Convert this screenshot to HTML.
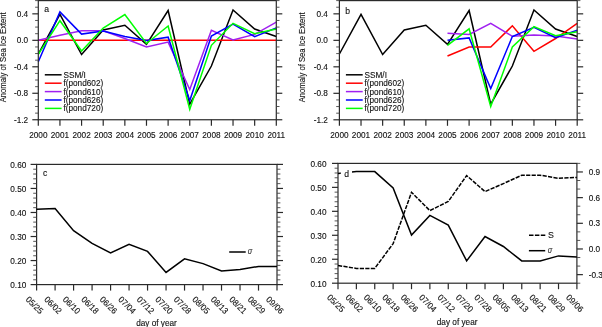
<!DOCTYPE html>
<html><head><meta charset="utf-8"><style>
html,body{margin:0;padding:0;background:#fff;}
body{width:602px;height:327px;overflow:hidden;}
svg{display:block;font-family:"Liberation Sans",sans-serif;}
</style></head><body>
<svg style="will-change:transform" width="602" height="327" viewBox="0 0 602 327">
<rect width="602" height="327" fill="#fff"/>
<polyline points="38.30,54.00 59.94,14.40 81.57,54.50 103.21,30.00 124.85,25.20 146.48,44.30 168.12,10.50 189.75,104.10 211.39,66.00 233.03,10.00 254.66,29.00 276.30,36.50" fill="none" stroke="#000" stroke-width="1.5" stroke-linejoin="miter" stroke-miterlimit="10" />
<polyline points="38.30,40.20 59.94,40.20 81.57,40.20 103.21,40.20 124.85,40.20 146.48,40.20 168.12,40.20 189.75,40.20 211.39,40.20 233.03,40.20 254.66,40.20 276.30,40.20" fill="none" stroke="#ff0000" stroke-width="1.5" stroke-linejoin="miter" stroke-miterlimit="10" />
<polyline points="38.30,40.20 59.94,35.30 81.57,30.80 103.21,30.80 124.85,38.50 146.48,47.00 168.12,42.10 189.75,89.50 211.39,30.20 233.03,40.00 254.66,34.40 276.30,22.10" fill="none" stroke="#a020f0" stroke-width="1.5" stroke-linejoin="miter" stroke-miterlimit="10" />
<polyline points="38.30,61.70 59.94,11.90 81.57,34.10 103.21,31.00 124.85,36.60 146.48,40.50 168.12,37.20 189.75,100.60 211.39,36.00 233.03,24.00 254.66,36.70 276.30,27.90" fill="none" stroke="#0000ff" stroke-width="1.5" stroke-linejoin="miter" stroke-miterlimit="10" />
<polyline points="38.30,54.30 59.94,20.70 81.57,51.00 103.21,28.00 124.85,14.50 146.48,43.50 168.12,26.00 189.75,109.30 211.39,45.30 233.03,23.30 254.66,33.70 276.30,29.00" fill="none" stroke="#00ff00" stroke-width="1.5" stroke-linejoin="miter" stroke-miterlimit="10" />
<rect x="38.30" y="0.60" width="238.00" height="119.15" fill="none" stroke="#2a2a2a" stroke-width="1.2"/>
<line x1="32.30" y1="119.75" x2="38.30" y2="119.75" stroke="#2a2a2a" stroke-width="1.2" />
<line x1="276.30" y1="119.75" x2="282.30" y2="119.75" stroke="#2a2a2a" stroke-width="1.2" />
<text transform="translate(28.20,122.65) scale(0.96,1)" y="0" font-size="8.6" text-anchor="end" fill="#111" stroke="#111" stroke-width="0.12" >-1.2</text>
<line x1="35.10" y1="113.13" x2="38.30" y2="113.13" stroke="#444" stroke-width="0.9" />
<line x1="276.30" y1="113.13" x2="279.50" y2="113.13" stroke="#444" stroke-width="0.9" />
<line x1="35.10" y1="106.51" x2="38.30" y2="106.51" stroke="#444" stroke-width="0.9" />
<line x1="276.30" y1="106.51" x2="279.50" y2="106.51" stroke="#444" stroke-width="0.9" />
<line x1="35.10" y1="99.89" x2="38.30" y2="99.89" stroke="#444" stroke-width="0.9" />
<line x1="276.30" y1="99.89" x2="279.50" y2="99.89" stroke="#444" stroke-width="0.9" />
<line x1="32.30" y1="93.27" x2="38.30" y2="93.27" stroke="#2a2a2a" stroke-width="1.2" />
<line x1="276.30" y1="93.27" x2="282.30" y2="93.27" stroke="#2a2a2a" stroke-width="1.2" />
<text transform="translate(28.20,96.17) scale(0.96,1)" y="0" font-size="8.6" text-anchor="end" fill="#111" stroke="#111" stroke-width="0.12" >-0.8</text>
<line x1="35.10" y1="86.65" x2="38.30" y2="86.65" stroke="#444" stroke-width="0.9" />
<line x1="276.30" y1="86.65" x2="279.50" y2="86.65" stroke="#444" stroke-width="0.9" />
<line x1="35.10" y1="80.03" x2="38.30" y2="80.03" stroke="#444" stroke-width="0.9" />
<line x1="276.30" y1="80.03" x2="279.50" y2="80.03" stroke="#444" stroke-width="0.9" />
<line x1="35.10" y1="73.41" x2="38.30" y2="73.41" stroke="#444" stroke-width="0.9" />
<line x1="276.30" y1="73.41" x2="279.50" y2="73.41" stroke="#444" stroke-width="0.9" />
<line x1="32.30" y1="66.79" x2="38.30" y2="66.79" stroke="#2a2a2a" stroke-width="1.2" />
<line x1="276.30" y1="66.79" x2="282.30" y2="66.79" stroke="#2a2a2a" stroke-width="1.2" />
<text transform="translate(28.20,69.69) scale(0.96,1)" y="0" font-size="8.6" text-anchor="end" fill="#111" stroke="#111" stroke-width="0.12" >-0.4</text>
<line x1="35.10" y1="60.18" x2="38.30" y2="60.18" stroke="#444" stroke-width="0.9" />
<line x1="276.30" y1="60.18" x2="279.50" y2="60.18" stroke="#444" stroke-width="0.9" />
<line x1="35.10" y1="53.56" x2="38.30" y2="53.56" stroke="#444" stroke-width="0.9" />
<line x1="276.30" y1="53.56" x2="279.50" y2="53.56" stroke="#444" stroke-width="0.9" />
<line x1="35.10" y1="46.94" x2="38.30" y2="46.94" stroke="#444" stroke-width="0.9" />
<line x1="276.30" y1="46.94" x2="279.50" y2="46.94" stroke="#444" stroke-width="0.9" />
<line x1="32.30" y1="40.32" x2="38.30" y2="40.32" stroke="#2a2a2a" stroke-width="1.2" />
<line x1="276.30" y1="40.32" x2="282.30" y2="40.32" stroke="#2a2a2a" stroke-width="1.2" />
<text transform="translate(28.20,43.22) scale(0.96,1)" y="0" font-size="8.6" text-anchor="end" fill="#111" stroke="#111" stroke-width="0.12" >0.0</text>
<line x1="35.10" y1="33.70" x2="38.30" y2="33.70" stroke="#444" stroke-width="0.9" />
<line x1="276.30" y1="33.70" x2="279.50" y2="33.70" stroke="#444" stroke-width="0.9" />
<line x1="35.10" y1="27.08" x2="38.30" y2="27.08" stroke="#444" stroke-width="0.9" />
<line x1="276.30" y1="27.08" x2="279.50" y2="27.08" stroke="#444" stroke-width="0.9" />
<line x1="35.10" y1="20.46" x2="38.30" y2="20.46" stroke="#444" stroke-width="0.9" />
<line x1="276.30" y1="20.46" x2="279.50" y2="20.46" stroke="#444" stroke-width="0.9" />
<line x1="32.30" y1="13.84" x2="38.30" y2="13.84" stroke="#2a2a2a" stroke-width="1.2" />
<line x1="276.30" y1="13.84" x2="282.30" y2="13.84" stroke="#2a2a2a" stroke-width="1.2" />
<text transform="translate(28.20,16.74) scale(0.96,1)" y="0" font-size="8.6" text-anchor="end" fill="#111" stroke="#111" stroke-width="0.12" >0.4</text>
<line x1="35.10" y1="7.22" x2="38.30" y2="7.22" stroke="#444" stroke-width="0.9" />
<line x1="276.30" y1="7.22" x2="279.50" y2="7.22" stroke="#444" stroke-width="0.9" />
<line x1="35.10" y1="0.60" x2="38.30" y2="0.60" stroke="#444" stroke-width="0.9" />
<line x1="276.30" y1="0.60" x2="279.50" y2="0.60" stroke="#444" stroke-width="0.9" />
<line x1="38.30" y1="119.75" x2="38.30" y2="125.75" stroke="#2a2a2a" stroke-width="1.2" />
<text transform="translate(38.30,137.75) scale(0.96,1)" y="0" font-size="8.6" text-anchor="middle" fill="#111" stroke="#111" stroke-width="0.12" >2000</text>
<line x1="59.94" y1="119.75" x2="59.94" y2="125.75" stroke="#2a2a2a" stroke-width="1.2" />
<text transform="translate(59.94,137.75) scale(0.96,1)" y="0" font-size="8.6" text-anchor="middle" fill="#111" stroke="#111" stroke-width="0.12" >2001</text>
<line x1="81.57" y1="119.75" x2="81.57" y2="125.75" stroke="#2a2a2a" stroke-width="1.2" />
<text transform="translate(81.57,137.75) scale(0.96,1)" y="0" font-size="8.6" text-anchor="middle" fill="#111" stroke="#111" stroke-width="0.12" >2002</text>
<line x1="103.21" y1="119.75" x2="103.21" y2="125.75" stroke="#2a2a2a" stroke-width="1.2" />
<text transform="translate(103.21,137.75) scale(0.96,1)" y="0" font-size="8.6" text-anchor="middle" fill="#111" stroke="#111" stroke-width="0.12" >2003</text>
<line x1="124.85" y1="119.75" x2="124.85" y2="125.75" stroke="#2a2a2a" stroke-width="1.2" />
<text transform="translate(124.85,137.75) scale(0.96,1)" y="0" font-size="8.6" text-anchor="middle" fill="#111" stroke="#111" stroke-width="0.12" >2004</text>
<line x1="146.48" y1="119.75" x2="146.48" y2="125.75" stroke="#2a2a2a" stroke-width="1.2" />
<text transform="translate(146.48,137.75) scale(0.96,1)" y="0" font-size="8.6" text-anchor="middle" fill="#111" stroke="#111" stroke-width="0.12" >2005</text>
<line x1="168.12" y1="119.75" x2="168.12" y2="125.75" stroke="#2a2a2a" stroke-width="1.2" />
<text transform="translate(168.12,137.75) scale(0.96,1)" y="0" font-size="8.6" text-anchor="middle" fill="#111" stroke="#111" stroke-width="0.12" >2006</text>
<line x1="189.75" y1="119.75" x2="189.75" y2="125.75" stroke="#2a2a2a" stroke-width="1.2" />
<text transform="translate(189.75,137.75) scale(0.96,1)" y="0" font-size="8.6" text-anchor="middle" fill="#111" stroke="#111" stroke-width="0.12" >2007</text>
<line x1="211.39" y1="119.75" x2="211.39" y2="125.75" stroke="#2a2a2a" stroke-width="1.2" />
<text transform="translate(211.39,137.75) scale(0.96,1)" y="0" font-size="8.6" text-anchor="middle" fill="#111" stroke="#111" stroke-width="0.12" >2008</text>
<line x1="233.03" y1="119.75" x2="233.03" y2="125.75" stroke="#2a2a2a" stroke-width="1.2" />
<text transform="translate(233.03,137.75) scale(0.96,1)" y="0" font-size="8.6" text-anchor="middle" fill="#111" stroke="#111" stroke-width="0.12" >2009</text>
<line x1="254.66" y1="119.75" x2="254.66" y2="125.75" stroke="#2a2a2a" stroke-width="1.2" />
<text transform="translate(254.66,137.75) scale(0.96,1)" y="0" font-size="8.6" text-anchor="middle" fill="#111" stroke="#111" stroke-width="0.12" >2010</text>
<line x1="276.30" y1="119.75" x2="276.30" y2="125.75" stroke="#2a2a2a" stroke-width="1.2" />
<text transform="translate(276.30,137.75) scale(0.96,1)" y="0" font-size="8.6" text-anchor="middle" fill="#111" stroke="#111" stroke-width="0.12" >2011</text>
<text transform="translate(6.40,57.27) rotate(-90) scale(0.89,1)" y="0" font-size="8.6" text-anchor="middle" fill="#111" stroke="#111" stroke-width="0.12" >Anomaly of Sea Ice Extent</text>
<text transform="translate(44.30,11.60) scale(1.0,1)" y="0" font-size="8.6" text-anchor="start" fill="#111" stroke="#111" stroke-width="0.12" >a</text>
<line x1="44.80" y1="74.80" x2="61.60" y2="74.80" stroke="#000" stroke-width="1.5" />
<text transform="translate(63.40,77.70) scale(0.96,1)" y="0" font-size="8.6" text-anchor="start" fill="#111" stroke="#111" stroke-width="0.12" >SSM/I</text>
<line x1="44.80" y1="83.20" x2="61.60" y2="83.20" stroke="#ff0000" stroke-width="1.5" />
<text transform="translate(63.40,86.10) scale(0.96,1)" y="0" font-size="8.6" text-anchor="start" fill="#111" stroke="#111" stroke-width="0.12" >f(pond602)</text>
<line x1="44.80" y1="91.60" x2="61.60" y2="91.60" stroke="#a020f0" stroke-width="1.5" />
<text transform="translate(63.40,94.50) scale(0.96,1)" y="0" font-size="8.6" text-anchor="start" fill="#111" stroke="#111" stroke-width="0.12" >f(pond610)</text>
<line x1="44.80" y1="100.00" x2="61.60" y2="100.00" stroke="#0000ff" stroke-width="1.5" />
<text transform="translate(63.40,102.90) scale(0.96,1)" y="0" font-size="8.6" text-anchor="start" fill="#111" stroke="#111" stroke-width="0.12" >f(pond626)</text>
<line x1="44.80" y1="108.40" x2="61.60" y2="108.40" stroke="#00ff00" stroke-width="1.5" />
<text transform="translate(63.40,111.30) scale(0.96,1)" y="0" font-size="8.6" text-anchor="start" fill="#111" stroke="#111" stroke-width="0.12" >f(pond720)</text>
<polyline points="339.40,54.00 361.02,14.40 382.64,54.50 404.25,30.00 425.87,25.20 447.49,44.30 469.11,10.50 490.73,104.10 512.35,66.00 533.96,10.00 555.58,29.00 577.20,36.50" fill="none" stroke="#000" stroke-width="1.5" stroke-linejoin="miter" stroke-miterlimit="10" />
<polyline points="447.49,56.00 469.11,47.10 490.73,47.10 512.35,25.80 533.96,51.30 555.58,38.50 577.20,23.30" fill="none" stroke="#ff0000" stroke-width="1.5" stroke-linejoin="miter" stroke-miterlimit="10" />
<polyline points="447.49,33.30 469.11,34.40 490.73,23.40 512.35,36.30 533.96,34.90 555.58,35.90 577.20,38.90" fill="none" stroke="#a020f0" stroke-width="1.5" stroke-linejoin="miter" stroke-miterlimit="10" />
<polyline points="447.49,40.20 469.11,37.90 490.73,88.60 512.35,36.50 533.96,27.20 555.58,37.60 577.20,30.30" fill="none" stroke="#0000ff" stroke-width="1.5" stroke-linejoin="miter" stroke-miterlimit="10" />
<polyline points="447.49,45.30 469.11,28.80 490.73,106.50 512.35,46.90 533.96,26.60 555.58,35.80 577.20,31.80" fill="none" stroke="#00ff00" stroke-width="1.5" stroke-linejoin="miter" stroke-miterlimit="10" />
<rect x="339.40" y="0.60" width="237.80" height="119.20" fill="none" stroke="#2a2a2a" stroke-width="1.2"/>
<line x1="333.40" y1="119.80" x2="339.40" y2="119.80" stroke="#2a2a2a" stroke-width="1.2" />
<line x1="577.20" y1="119.80" x2="583.20" y2="119.80" stroke="#2a2a2a" stroke-width="1.2" />
<text transform="translate(327.90,122.70) scale(0.96,1)" y="0" font-size="8.6" text-anchor="end" fill="#111" stroke="#111" stroke-width="0.12" >-1.2</text>
<line x1="336.20" y1="113.18" x2="339.40" y2="113.18" stroke="#444" stroke-width="0.9" />
<line x1="577.20" y1="113.18" x2="580.40" y2="113.18" stroke="#444" stroke-width="0.9" />
<line x1="336.20" y1="106.56" x2="339.40" y2="106.56" stroke="#444" stroke-width="0.9" />
<line x1="577.20" y1="106.56" x2="580.40" y2="106.56" stroke="#444" stroke-width="0.9" />
<line x1="336.20" y1="99.93" x2="339.40" y2="99.93" stroke="#444" stroke-width="0.9" />
<line x1="577.20" y1="99.93" x2="580.40" y2="99.93" stroke="#444" stroke-width="0.9" />
<line x1="333.40" y1="93.31" x2="339.40" y2="93.31" stroke="#2a2a2a" stroke-width="1.2" />
<line x1="577.20" y1="93.31" x2="583.20" y2="93.31" stroke="#2a2a2a" stroke-width="1.2" />
<text transform="translate(327.90,96.21) scale(0.96,1)" y="0" font-size="8.6" text-anchor="end" fill="#111" stroke="#111" stroke-width="0.12" >-0.8</text>
<line x1="336.20" y1="86.69" x2="339.40" y2="86.69" stroke="#444" stroke-width="0.9" />
<line x1="577.20" y1="86.69" x2="580.40" y2="86.69" stroke="#444" stroke-width="0.9" />
<line x1="336.20" y1="80.07" x2="339.40" y2="80.07" stroke="#444" stroke-width="0.9" />
<line x1="577.20" y1="80.07" x2="580.40" y2="80.07" stroke="#444" stroke-width="0.9" />
<line x1="336.20" y1="73.44" x2="339.40" y2="73.44" stroke="#444" stroke-width="0.9" />
<line x1="577.20" y1="73.44" x2="580.40" y2="73.44" stroke="#444" stroke-width="0.9" />
<line x1="333.40" y1="66.82" x2="339.40" y2="66.82" stroke="#2a2a2a" stroke-width="1.2" />
<line x1="577.20" y1="66.82" x2="583.20" y2="66.82" stroke="#2a2a2a" stroke-width="1.2" />
<text transform="translate(327.90,69.72) scale(0.96,1)" y="0" font-size="8.6" text-anchor="end" fill="#111" stroke="#111" stroke-width="0.12" >-0.4</text>
<line x1="336.20" y1="60.20" x2="339.40" y2="60.20" stroke="#444" stroke-width="0.9" />
<line x1="577.20" y1="60.20" x2="580.40" y2="60.20" stroke="#444" stroke-width="0.9" />
<line x1="336.20" y1="53.58" x2="339.40" y2="53.58" stroke="#444" stroke-width="0.9" />
<line x1="577.20" y1="53.58" x2="580.40" y2="53.58" stroke="#444" stroke-width="0.9" />
<line x1="336.20" y1="46.96" x2="339.40" y2="46.96" stroke="#444" stroke-width="0.9" />
<line x1="577.20" y1="46.96" x2="580.40" y2="46.96" stroke="#444" stroke-width="0.9" />
<line x1="333.40" y1="40.33" x2="339.40" y2="40.33" stroke="#2a2a2a" stroke-width="1.2" />
<line x1="577.20" y1="40.33" x2="583.20" y2="40.33" stroke="#2a2a2a" stroke-width="1.2" />
<text transform="translate(327.90,43.23) scale(0.96,1)" y="0" font-size="8.6" text-anchor="end" fill="#111" stroke="#111" stroke-width="0.12" >0.0</text>
<line x1="336.20" y1="33.71" x2="339.40" y2="33.71" stroke="#444" stroke-width="0.9" />
<line x1="577.20" y1="33.71" x2="580.40" y2="33.71" stroke="#444" stroke-width="0.9" />
<line x1="336.20" y1="27.09" x2="339.40" y2="27.09" stroke="#444" stroke-width="0.9" />
<line x1="577.20" y1="27.09" x2="580.40" y2="27.09" stroke="#444" stroke-width="0.9" />
<line x1="336.20" y1="20.47" x2="339.40" y2="20.47" stroke="#444" stroke-width="0.9" />
<line x1="577.20" y1="20.47" x2="580.40" y2="20.47" stroke="#444" stroke-width="0.9" />
<line x1="333.40" y1="13.84" x2="339.40" y2="13.84" stroke="#2a2a2a" stroke-width="1.2" />
<line x1="577.20" y1="13.84" x2="583.20" y2="13.84" stroke="#2a2a2a" stroke-width="1.2" />
<text transform="translate(327.90,16.74) scale(0.96,1)" y="0" font-size="8.6" text-anchor="end" fill="#111" stroke="#111" stroke-width="0.12" >0.4</text>
<line x1="336.20" y1="7.22" x2="339.40" y2="7.22" stroke="#444" stroke-width="0.9" />
<line x1="577.20" y1="7.22" x2="580.40" y2="7.22" stroke="#444" stroke-width="0.9" />
<line x1="336.20" y1="0.60" x2="339.40" y2="0.60" stroke="#444" stroke-width="0.9" />
<line x1="577.20" y1="0.60" x2="580.40" y2="0.60" stroke="#444" stroke-width="0.9" />
<line x1="339.40" y1="119.80" x2="339.40" y2="125.80" stroke="#2a2a2a" stroke-width="1.2" />
<text transform="translate(339.40,137.80) scale(0.96,1)" y="0" font-size="8.6" text-anchor="middle" fill="#111" stroke="#111" stroke-width="0.12" >2000</text>
<line x1="361.02" y1="119.80" x2="361.02" y2="125.80" stroke="#2a2a2a" stroke-width="1.2" />
<text transform="translate(361.02,137.80) scale(0.96,1)" y="0" font-size="8.6" text-anchor="middle" fill="#111" stroke="#111" stroke-width="0.12" >2001</text>
<line x1="382.64" y1="119.80" x2="382.64" y2="125.80" stroke="#2a2a2a" stroke-width="1.2" />
<text transform="translate(382.64,137.80) scale(0.96,1)" y="0" font-size="8.6" text-anchor="middle" fill="#111" stroke="#111" stroke-width="0.12" >2002</text>
<line x1="404.25" y1="119.80" x2="404.25" y2="125.80" stroke="#2a2a2a" stroke-width="1.2" />
<text transform="translate(404.25,137.80) scale(0.96,1)" y="0" font-size="8.6" text-anchor="middle" fill="#111" stroke="#111" stroke-width="0.12" >2003</text>
<line x1="425.87" y1="119.80" x2="425.87" y2="125.80" stroke="#2a2a2a" stroke-width="1.2" />
<text transform="translate(425.87,137.80) scale(0.96,1)" y="0" font-size="8.6" text-anchor="middle" fill="#111" stroke="#111" stroke-width="0.12" >2004</text>
<line x1="447.49" y1="119.80" x2="447.49" y2="125.80" stroke="#2a2a2a" stroke-width="1.2" />
<text transform="translate(447.49,137.80) scale(0.96,1)" y="0" font-size="8.6" text-anchor="middle" fill="#111" stroke="#111" stroke-width="0.12" >2005</text>
<line x1="469.11" y1="119.80" x2="469.11" y2="125.80" stroke="#2a2a2a" stroke-width="1.2" />
<text transform="translate(469.11,137.80) scale(0.96,1)" y="0" font-size="8.6" text-anchor="middle" fill="#111" stroke="#111" stroke-width="0.12" >2006</text>
<line x1="490.73" y1="119.80" x2="490.73" y2="125.80" stroke="#2a2a2a" stroke-width="1.2" />
<text transform="translate(490.73,137.80) scale(0.96,1)" y="0" font-size="8.6" text-anchor="middle" fill="#111" stroke="#111" stroke-width="0.12" >2007</text>
<line x1="512.35" y1="119.80" x2="512.35" y2="125.80" stroke="#2a2a2a" stroke-width="1.2" />
<text transform="translate(512.35,137.80) scale(0.96,1)" y="0" font-size="8.6" text-anchor="middle" fill="#111" stroke="#111" stroke-width="0.12" >2008</text>
<line x1="533.96" y1="119.80" x2="533.96" y2="125.80" stroke="#2a2a2a" stroke-width="1.2" />
<text transform="translate(533.96,137.80) scale(0.96,1)" y="0" font-size="8.6" text-anchor="middle" fill="#111" stroke="#111" stroke-width="0.12" >2009</text>
<line x1="555.58" y1="119.80" x2="555.58" y2="125.80" stroke="#2a2a2a" stroke-width="1.2" />
<text transform="translate(555.58,137.80) scale(0.96,1)" y="0" font-size="8.6" text-anchor="middle" fill="#111" stroke="#111" stroke-width="0.12" >2010</text>
<line x1="577.20" y1="119.80" x2="577.20" y2="125.80" stroke="#2a2a2a" stroke-width="1.2" />
<text transform="translate(577.20,137.80) scale(0.96,1)" y="0" font-size="8.6" text-anchor="middle" fill="#111" stroke="#111" stroke-width="0.12" >2011</text>
<text transform="translate(304.50,57.30) rotate(-90) scale(0.89,1)" y="0" font-size="8.6" text-anchor="middle" fill="#111" stroke="#111" stroke-width="0.12" >Anomaly of Sea Ice Extent</text>
<text transform="translate(345.20,14.20) scale(1.0,1)" y="0" font-size="8.6" text-anchor="start" fill="#111" stroke="#111" stroke-width="0.12" >b</text>
<line x1="345.90" y1="74.80" x2="362.70" y2="74.80" stroke="#000" stroke-width="1.5" />
<text transform="translate(364.50,77.70) scale(0.96,1)" y="0" font-size="8.6" text-anchor="start" fill="#111" stroke="#111" stroke-width="0.12" >SSM/I</text>
<line x1="345.90" y1="83.20" x2="362.70" y2="83.20" stroke="#ff0000" stroke-width="1.5" />
<text transform="translate(364.50,86.10) scale(0.96,1)" y="0" font-size="8.6" text-anchor="start" fill="#111" stroke="#111" stroke-width="0.12" >f(pond602)</text>
<line x1="345.90" y1="91.60" x2="362.70" y2="91.60" stroke="#a020f0" stroke-width="1.5" />
<text transform="translate(364.50,94.50) scale(0.96,1)" y="0" font-size="8.6" text-anchor="start" fill="#111" stroke="#111" stroke-width="0.12" >f(pond610)</text>
<line x1="345.90" y1="100.00" x2="362.70" y2="100.00" stroke="#0000ff" stroke-width="1.5" />
<text transform="translate(364.50,102.90) scale(0.96,1)" y="0" font-size="8.6" text-anchor="start" fill="#111" stroke="#111" stroke-width="0.12" >f(pond626)</text>
<line x1="345.90" y1="108.40" x2="362.70" y2="108.40" stroke="#00ff00" stroke-width="1.5" />
<text transform="translate(364.50,111.30) scale(0.96,1)" y="0" font-size="8.6" text-anchor="start" fill="#111" stroke="#111" stroke-width="0.12" >f(pond720)</text>
<rect x="36.60" y="164.40" width="240.40" height="120.20" fill="none" stroke="#2a2a2a" stroke-width="1.2"/>
<line x1="30.60" y1="284.60" x2="36.60" y2="284.60" stroke="#2a2a2a" stroke-width="1.2" />
<line x1="277.00" y1="284.60" x2="283.00" y2="284.60" stroke="#2a2a2a" stroke-width="1.2" />
<text transform="translate(26.30,287.70) scale(0.96,1)" y="0" font-size="8.6" text-anchor="end" fill="#111" stroke="#111" stroke-width="0.12" >0.10</text>
<line x1="33.20" y1="279.79" x2="36.60" y2="279.79" stroke="#444" stroke-width="0.9" />
<line x1="277.00" y1="279.79" x2="280.40" y2="279.79" stroke="#444" stroke-width="0.9" />
<line x1="33.20" y1="274.98" x2="36.60" y2="274.98" stroke="#444" stroke-width="0.9" />
<line x1="277.00" y1="274.98" x2="280.40" y2="274.98" stroke="#444" stroke-width="0.9" />
<line x1="33.20" y1="270.18" x2="36.60" y2="270.18" stroke="#444" stroke-width="0.9" />
<line x1="277.00" y1="270.18" x2="280.40" y2="270.18" stroke="#444" stroke-width="0.9" />
<line x1="33.20" y1="265.37" x2="36.60" y2="265.37" stroke="#444" stroke-width="0.9" />
<line x1="277.00" y1="265.37" x2="280.40" y2="265.37" stroke="#444" stroke-width="0.9" />
<line x1="30.60" y1="260.56" x2="36.60" y2="260.56" stroke="#2a2a2a" stroke-width="1.2" />
<line x1="277.00" y1="260.56" x2="283.00" y2="260.56" stroke="#2a2a2a" stroke-width="1.2" />
<text transform="translate(26.30,263.66) scale(0.96,1)" y="0" font-size="8.6" text-anchor="end" fill="#111" stroke="#111" stroke-width="0.12" >0.20</text>
<line x1="33.20" y1="255.75" x2="36.60" y2="255.75" stroke="#444" stroke-width="0.9" />
<line x1="277.00" y1="255.75" x2="280.40" y2="255.75" stroke="#444" stroke-width="0.9" />
<line x1="33.20" y1="250.94" x2="36.60" y2="250.94" stroke="#444" stroke-width="0.9" />
<line x1="277.00" y1="250.94" x2="280.40" y2="250.94" stroke="#444" stroke-width="0.9" />
<line x1="33.20" y1="246.14" x2="36.60" y2="246.14" stroke="#444" stroke-width="0.9" />
<line x1="277.00" y1="246.14" x2="280.40" y2="246.14" stroke="#444" stroke-width="0.9" />
<line x1="33.20" y1="241.33" x2="36.60" y2="241.33" stroke="#444" stroke-width="0.9" />
<line x1="277.00" y1="241.33" x2="280.40" y2="241.33" stroke="#444" stroke-width="0.9" />
<line x1="30.60" y1="236.52" x2="36.60" y2="236.52" stroke="#2a2a2a" stroke-width="1.2" />
<line x1="277.00" y1="236.52" x2="283.00" y2="236.52" stroke="#2a2a2a" stroke-width="1.2" />
<text transform="translate(26.30,239.62) scale(0.96,1)" y="0" font-size="8.6" text-anchor="end" fill="#111" stroke="#111" stroke-width="0.12" >0.30</text>
<line x1="33.20" y1="231.71" x2="36.60" y2="231.71" stroke="#444" stroke-width="0.9" />
<line x1="277.00" y1="231.71" x2="280.40" y2="231.71" stroke="#444" stroke-width="0.9" />
<line x1="33.20" y1="226.90" x2="36.60" y2="226.90" stroke="#444" stroke-width="0.9" />
<line x1="277.00" y1="226.90" x2="280.40" y2="226.90" stroke="#444" stroke-width="0.9" />
<line x1="33.20" y1="222.10" x2="36.60" y2="222.10" stroke="#444" stroke-width="0.9" />
<line x1="277.00" y1="222.10" x2="280.40" y2="222.10" stroke="#444" stroke-width="0.9" />
<line x1="33.20" y1="217.29" x2="36.60" y2="217.29" stroke="#444" stroke-width="0.9" />
<line x1="277.00" y1="217.29" x2="280.40" y2="217.29" stroke="#444" stroke-width="0.9" />
<line x1="30.60" y1="212.48" x2="36.60" y2="212.48" stroke="#2a2a2a" stroke-width="1.2" />
<line x1="277.00" y1="212.48" x2="283.00" y2="212.48" stroke="#2a2a2a" stroke-width="1.2" />
<text transform="translate(26.30,215.58) scale(0.96,1)" y="0" font-size="8.6" text-anchor="end" fill="#111" stroke="#111" stroke-width="0.12" >0.40</text>
<line x1="33.20" y1="207.67" x2="36.60" y2="207.67" stroke="#444" stroke-width="0.9" />
<line x1="277.00" y1="207.67" x2="280.40" y2="207.67" stroke="#444" stroke-width="0.9" />
<line x1="33.20" y1="202.86" x2="36.60" y2="202.86" stroke="#444" stroke-width="0.9" />
<line x1="277.00" y1="202.86" x2="280.40" y2="202.86" stroke="#444" stroke-width="0.9" />
<line x1="33.20" y1="198.06" x2="36.60" y2="198.06" stroke="#444" stroke-width="0.9" />
<line x1="277.00" y1="198.06" x2="280.40" y2="198.06" stroke="#444" stroke-width="0.9" />
<line x1="33.20" y1="193.25" x2="36.60" y2="193.25" stroke="#444" stroke-width="0.9" />
<line x1="277.00" y1="193.25" x2="280.40" y2="193.25" stroke="#444" stroke-width="0.9" />
<line x1="30.60" y1="188.44" x2="36.60" y2="188.44" stroke="#2a2a2a" stroke-width="1.2" />
<line x1="277.00" y1="188.44" x2="283.00" y2="188.44" stroke="#2a2a2a" stroke-width="1.2" />
<text transform="translate(26.30,191.54) scale(0.96,1)" y="0" font-size="8.6" text-anchor="end" fill="#111" stroke="#111" stroke-width="0.12" >0.50</text>
<line x1="33.20" y1="183.63" x2="36.60" y2="183.63" stroke="#444" stroke-width="0.9" />
<line x1="277.00" y1="183.63" x2="280.40" y2="183.63" stroke="#444" stroke-width="0.9" />
<line x1="33.20" y1="178.82" x2="36.60" y2="178.82" stroke="#444" stroke-width="0.9" />
<line x1="277.00" y1="178.82" x2="280.40" y2="178.82" stroke="#444" stroke-width="0.9" />
<line x1="33.20" y1="174.02" x2="36.60" y2="174.02" stroke="#444" stroke-width="0.9" />
<line x1="277.00" y1="174.02" x2="280.40" y2="174.02" stroke="#444" stroke-width="0.9" />
<line x1="33.20" y1="169.21" x2="36.60" y2="169.21" stroke="#444" stroke-width="0.9" />
<line x1="277.00" y1="169.21" x2="280.40" y2="169.21" stroke="#444" stroke-width="0.9" />
<line x1="30.60" y1="164.40" x2="36.60" y2="164.40" stroke="#2a2a2a" stroke-width="1.2" />
<line x1="277.00" y1="164.40" x2="283.00" y2="164.40" stroke="#2a2a2a" stroke-width="1.2" />
<text transform="translate(26.30,167.50) scale(0.96,1)" y="0" font-size="8.6" text-anchor="end" fill="#111" stroke="#111" stroke-width="0.12" >0.60</text>
<line x1="36.60" y1="284.60" x2="36.60" y2="290.60" stroke="#2a2a2a" stroke-width="1.2" />
<text transform="translate(34.70,305.00) rotate(45) scale(0.96,1)" y="3.1" font-size="8.6" text-anchor="middle" fill="#111" stroke="#111" stroke-width="0.12" >05/25</text>
<line x1="55.09" y1="284.60" x2="55.09" y2="290.60" stroke="#2a2a2a" stroke-width="1.2" />
<text transform="translate(53.19,305.00) rotate(45) scale(0.96,1)" y="3.1" font-size="8.6" text-anchor="middle" fill="#111" stroke="#111" stroke-width="0.12" >06/02</text>
<line x1="73.58" y1="284.60" x2="73.58" y2="290.60" stroke="#2a2a2a" stroke-width="1.2" />
<text transform="translate(71.68,305.00) rotate(45) scale(0.96,1)" y="3.1" font-size="8.6" text-anchor="middle" fill="#111" stroke="#111" stroke-width="0.12" >06/10</text>
<line x1="92.08" y1="284.60" x2="92.08" y2="290.60" stroke="#2a2a2a" stroke-width="1.2" />
<text transform="translate(90.18,305.00) rotate(45) scale(0.96,1)" y="3.1" font-size="8.6" text-anchor="middle" fill="#111" stroke="#111" stroke-width="0.12" >06/18</text>
<line x1="110.57" y1="284.60" x2="110.57" y2="290.60" stroke="#2a2a2a" stroke-width="1.2" />
<text transform="translate(108.67,305.00) rotate(45) scale(0.96,1)" y="3.1" font-size="8.6" text-anchor="middle" fill="#111" stroke="#111" stroke-width="0.12" >06/26</text>
<line x1="129.06" y1="284.60" x2="129.06" y2="290.60" stroke="#2a2a2a" stroke-width="1.2" />
<text transform="translate(127.16,305.00) rotate(45) scale(0.96,1)" y="3.1" font-size="8.6" text-anchor="middle" fill="#111" stroke="#111" stroke-width="0.12" >07/04</text>
<line x1="147.55" y1="284.60" x2="147.55" y2="290.60" stroke="#2a2a2a" stroke-width="1.2" />
<text transform="translate(145.65,305.00) rotate(45) scale(0.96,1)" y="3.1" font-size="8.6" text-anchor="middle" fill="#111" stroke="#111" stroke-width="0.12" >07/12</text>
<line x1="166.05" y1="284.60" x2="166.05" y2="290.60" stroke="#2a2a2a" stroke-width="1.2" />
<text transform="translate(164.15,305.00) rotate(45) scale(0.96,1)" y="3.1" font-size="8.6" text-anchor="middle" fill="#111" stroke="#111" stroke-width="0.12" >07/20</text>
<line x1="184.54" y1="284.60" x2="184.54" y2="290.60" stroke="#2a2a2a" stroke-width="1.2" />
<text transform="translate(182.64,305.00) rotate(45) scale(0.96,1)" y="3.1" font-size="8.6" text-anchor="middle" fill="#111" stroke="#111" stroke-width="0.12" >07/28</text>
<line x1="203.03" y1="284.60" x2="203.03" y2="290.60" stroke="#2a2a2a" stroke-width="1.2" />
<text transform="translate(201.13,305.00) rotate(45) scale(0.96,1)" y="3.1" font-size="8.6" text-anchor="middle" fill="#111" stroke="#111" stroke-width="0.12" >08/05</text>
<line x1="221.52" y1="284.60" x2="221.52" y2="290.60" stroke="#2a2a2a" stroke-width="1.2" />
<text transform="translate(219.62,305.00) rotate(45) scale(0.96,1)" y="3.1" font-size="8.6" text-anchor="middle" fill="#111" stroke="#111" stroke-width="0.12" >08/13</text>
<line x1="240.02" y1="284.60" x2="240.02" y2="290.60" stroke="#2a2a2a" stroke-width="1.2" />
<text transform="translate(238.12,305.00) rotate(45) scale(0.96,1)" y="3.1" font-size="8.6" text-anchor="middle" fill="#111" stroke="#111" stroke-width="0.12" >08/21</text>
<line x1="258.51" y1="284.60" x2="258.51" y2="290.60" stroke="#2a2a2a" stroke-width="1.2" />
<text transform="translate(256.61,305.00) rotate(45) scale(0.96,1)" y="3.1" font-size="8.6" text-anchor="middle" fill="#111" stroke="#111" stroke-width="0.12" >08/29</text>
<line x1="277.00" y1="284.60" x2="277.00" y2="290.60" stroke="#2a2a2a" stroke-width="1.2" />
<text transform="translate(275.10,305.00) rotate(45) scale(0.96,1)" y="3.1" font-size="8.6" text-anchor="middle" fill="#111" stroke="#111" stroke-width="0.12" >09/06</text>
<text transform="translate(156.50,326.00) scale(0.96,1)" y="0" font-size="8.6" text-anchor="middle" fill="#111" stroke="#111" stroke-width="0.12" >day of year</text>
<polyline points="36.60,209.20 55.09,208.50 73.58,230.70 92.08,243.30 110.57,252.90 129.06,244.20 147.55,251.40 166.05,272.40 184.54,258.80 203.03,263.60 221.52,270.90 240.02,269.60 258.51,266.40 277.00,266.60" fill="none" stroke="#000" stroke-width="1.5" stroke-linejoin="miter" stroke-miterlimit="10" />
<text transform="translate(43.00,175.60) scale(1.0,1)" y="0" font-size="8.6" text-anchor="start" fill="#111" stroke="#111" stroke-width="0.12" >c</text>
<line x1="229.20" y1="252.00" x2="245.70" y2="252.00" stroke="#000" stroke-width="1.5" />
<text transform="translate(247.70,254.30) scale(0.9,1)" y="0" font-size="8.2" text-anchor="start" fill="#333" stroke="#333" stroke-width="0.12" font-style="italic">σ</text>
<rect x="338.00" y="163.40" width="238.90" height="119.80" fill="none" stroke="#2a2a2a" stroke-width="1.2"/>
<line x1="332.00" y1="283.20" x2="338.00" y2="283.20" stroke="#2a2a2a" stroke-width="1.2" />
<text transform="translate(326.50,286.60) scale(0.96,1)" y="0" font-size="8.6" text-anchor="end" fill="#111" stroke="#111" stroke-width="0.12" >0.10</text>
<line x1="334.60" y1="278.41" x2="338.00" y2="278.41" stroke="#444" stroke-width="0.9" />
<line x1="334.60" y1="273.62" x2="338.00" y2="273.62" stroke="#444" stroke-width="0.9" />
<line x1="334.60" y1="268.82" x2="338.00" y2="268.82" stroke="#444" stroke-width="0.9" />
<line x1="334.60" y1="264.03" x2="338.00" y2="264.03" stroke="#444" stroke-width="0.9" />
<line x1="332.00" y1="259.24" x2="338.00" y2="259.24" stroke="#2a2a2a" stroke-width="1.2" />
<text transform="translate(326.50,262.64) scale(0.96,1)" y="0" font-size="8.6" text-anchor="end" fill="#111" stroke="#111" stroke-width="0.12" >0.20</text>
<line x1="334.60" y1="254.45" x2="338.00" y2="254.45" stroke="#444" stroke-width="0.9" />
<line x1="334.60" y1="249.66" x2="338.00" y2="249.66" stroke="#444" stroke-width="0.9" />
<line x1="334.60" y1="244.86" x2="338.00" y2="244.86" stroke="#444" stroke-width="0.9" />
<line x1="334.60" y1="240.07" x2="338.00" y2="240.07" stroke="#444" stroke-width="0.9" />
<line x1="332.00" y1="235.28" x2="338.00" y2="235.28" stroke="#2a2a2a" stroke-width="1.2" />
<text transform="translate(326.50,238.68) scale(0.96,1)" y="0" font-size="8.6" text-anchor="end" fill="#111" stroke="#111" stroke-width="0.12" >0.30</text>
<line x1="334.60" y1="230.49" x2="338.00" y2="230.49" stroke="#444" stroke-width="0.9" />
<line x1="334.60" y1="225.70" x2="338.00" y2="225.70" stroke="#444" stroke-width="0.9" />
<line x1="334.60" y1="220.90" x2="338.00" y2="220.90" stroke="#444" stroke-width="0.9" />
<line x1="334.60" y1="216.11" x2="338.00" y2="216.11" stroke="#444" stroke-width="0.9" />
<line x1="332.00" y1="211.32" x2="338.00" y2="211.32" stroke="#2a2a2a" stroke-width="1.2" />
<text transform="translate(326.50,214.72) scale(0.96,1)" y="0" font-size="8.6" text-anchor="end" fill="#111" stroke="#111" stroke-width="0.12" >0.40</text>
<line x1="334.60" y1="206.53" x2="338.00" y2="206.53" stroke="#444" stroke-width="0.9" />
<line x1="334.60" y1="201.74" x2="338.00" y2="201.74" stroke="#444" stroke-width="0.9" />
<line x1="334.60" y1="196.94" x2="338.00" y2="196.94" stroke="#444" stroke-width="0.9" />
<line x1="334.60" y1="192.15" x2="338.00" y2="192.15" stroke="#444" stroke-width="0.9" />
<line x1="332.00" y1="187.36" x2="338.00" y2="187.36" stroke="#2a2a2a" stroke-width="1.2" />
<text transform="translate(326.50,190.76) scale(0.96,1)" y="0" font-size="8.6" text-anchor="end" fill="#111" stroke="#111" stroke-width="0.12" >0.50</text>
<line x1="334.60" y1="182.57" x2="338.00" y2="182.57" stroke="#444" stroke-width="0.9" />
<line x1="334.60" y1="177.78" x2="338.00" y2="177.78" stroke="#444" stroke-width="0.9" />
<line x1="334.60" y1="172.98" x2="338.00" y2="172.98" stroke="#444" stroke-width="0.9" />
<line x1="334.60" y1="168.19" x2="338.00" y2="168.19" stroke="#444" stroke-width="0.9" />
<line x1="332.00" y1="163.40" x2="338.00" y2="163.40" stroke="#2a2a2a" stroke-width="1.2" />
<text transform="translate(326.50,166.80) scale(0.96,1)" y="0" font-size="8.6" text-anchor="end" fill="#111" stroke="#111" stroke-width="0.12" >0.60</text>
<line x1="576.90" y1="283.20" x2="580.30" y2="283.20" stroke="#444" stroke-width="0.9" />
<line x1="576.90" y1="274.64" x2="582.90" y2="274.64" stroke="#2a2a2a" stroke-width="1.2" />
<text transform="translate(588.70,277.54) scale(0.96,1)" y="0" font-size="8.6" text-anchor="start" fill="#111" stroke="#111" stroke-width="0.12" >-0.3</text>
<line x1="576.90" y1="266.09" x2="580.30" y2="266.09" stroke="#444" stroke-width="0.9" />
<line x1="576.90" y1="257.53" x2="580.30" y2="257.53" stroke="#444" stroke-width="0.9" />
<line x1="576.90" y1="248.97" x2="582.90" y2="248.97" stroke="#2a2a2a" stroke-width="1.2" />
<text transform="translate(588.70,251.87) scale(0.96,1)" y="0" font-size="8.6" text-anchor="start" fill="#111" stroke="#111" stroke-width="0.12" >0.0</text>
<line x1="576.90" y1="240.41" x2="580.30" y2="240.41" stroke="#444" stroke-width="0.9" />
<line x1="576.90" y1="231.86" x2="580.30" y2="231.86" stroke="#444" stroke-width="0.9" />
<line x1="576.90" y1="223.30" x2="582.90" y2="223.30" stroke="#2a2a2a" stroke-width="1.2" />
<text transform="translate(588.70,226.20) scale(0.96,1)" y="0" font-size="8.6" text-anchor="start" fill="#111" stroke="#111" stroke-width="0.12" >0.3</text>
<line x1="576.90" y1="214.74" x2="580.30" y2="214.74" stroke="#444" stroke-width="0.9" />
<line x1="576.90" y1="206.19" x2="580.30" y2="206.19" stroke="#444" stroke-width="0.9" />
<line x1="576.90" y1="197.63" x2="582.90" y2="197.63" stroke="#2a2a2a" stroke-width="1.2" />
<text transform="translate(588.70,200.53) scale(0.96,1)" y="0" font-size="8.6" text-anchor="start" fill="#111" stroke="#111" stroke-width="0.12" >0.6</text>
<line x1="576.90" y1="189.07" x2="580.30" y2="189.07" stroke="#444" stroke-width="0.9" />
<line x1="576.90" y1="180.51" x2="580.30" y2="180.51" stroke="#444" stroke-width="0.9" />
<line x1="576.90" y1="171.96" x2="582.90" y2="171.96" stroke="#2a2a2a" stroke-width="1.2" />
<text transform="translate(588.70,174.86) scale(0.96,1)" y="0" font-size="8.6" text-anchor="start" fill="#111" stroke="#111" stroke-width="0.12" >0.9</text>
<line x1="576.90" y1="163.40" x2="580.30" y2="163.40" stroke="#444" stroke-width="0.9" />
<line x1="338.00" y1="283.20" x2="338.00" y2="289.20" stroke="#2a2a2a" stroke-width="1.2" />
<text transform="translate(336.10,303.20) rotate(45) scale(0.96,1)" y="3.1" font-size="8.6" text-anchor="middle" fill="#111" stroke="#111" stroke-width="0.12" >05/25</text>
<line x1="356.38" y1="283.20" x2="356.38" y2="289.20" stroke="#2a2a2a" stroke-width="1.2" />
<text transform="translate(354.48,303.20) rotate(45) scale(0.96,1)" y="3.1" font-size="8.6" text-anchor="middle" fill="#111" stroke="#111" stroke-width="0.12" >06/02</text>
<line x1="374.75" y1="283.20" x2="374.75" y2="289.20" stroke="#2a2a2a" stroke-width="1.2" />
<text transform="translate(372.85,303.20) rotate(45) scale(0.96,1)" y="3.1" font-size="8.6" text-anchor="middle" fill="#111" stroke="#111" stroke-width="0.12" >06/10</text>
<line x1="393.13" y1="283.20" x2="393.13" y2="289.20" stroke="#2a2a2a" stroke-width="1.2" />
<text transform="translate(391.23,303.20) rotate(45) scale(0.96,1)" y="3.1" font-size="8.6" text-anchor="middle" fill="#111" stroke="#111" stroke-width="0.12" >06/18</text>
<line x1="411.51" y1="283.20" x2="411.51" y2="289.20" stroke="#2a2a2a" stroke-width="1.2" />
<text transform="translate(409.61,303.20) rotate(45) scale(0.96,1)" y="3.1" font-size="8.6" text-anchor="middle" fill="#111" stroke="#111" stroke-width="0.12" >06/26</text>
<line x1="429.88" y1="283.20" x2="429.88" y2="289.20" stroke="#2a2a2a" stroke-width="1.2" />
<text transform="translate(427.98,303.20) rotate(45) scale(0.96,1)" y="3.1" font-size="8.6" text-anchor="middle" fill="#111" stroke="#111" stroke-width="0.12" >07/04</text>
<line x1="448.26" y1="283.20" x2="448.26" y2="289.20" stroke="#2a2a2a" stroke-width="1.2" />
<text transform="translate(446.36,303.20) rotate(45) scale(0.96,1)" y="3.1" font-size="8.6" text-anchor="middle" fill="#111" stroke="#111" stroke-width="0.12" >07/12</text>
<line x1="466.64" y1="283.20" x2="466.64" y2="289.20" stroke="#2a2a2a" stroke-width="1.2" />
<text transform="translate(464.74,303.20) rotate(45) scale(0.96,1)" y="3.1" font-size="8.6" text-anchor="middle" fill="#111" stroke="#111" stroke-width="0.12" >07/20</text>
<line x1="485.02" y1="283.20" x2="485.02" y2="289.20" stroke="#2a2a2a" stroke-width="1.2" />
<text transform="translate(483.12,303.20) rotate(45) scale(0.96,1)" y="3.1" font-size="8.6" text-anchor="middle" fill="#111" stroke="#111" stroke-width="0.12" >07/28</text>
<line x1="503.39" y1="283.20" x2="503.39" y2="289.20" stroke="#2a2a2a" stroke-width="1.2" />
<text transform="translate(501.49,303.20) rotate(45) scale(0.96,1)" y="3.1" font-size="8.6" text-anchor="middle" fill="#111" stroke="#111" stroke-width="0.12" >08/05</text>
<line x1="521.77" y1="283.20" x2="521.77" y2="289.20" stroke="#2a2a2a" stroke-width="1.2" />
<text transform="translate(519.87,303.20) rotate(45) scale(0.96,1)" y="3.1" font-size="8.6" text-anchor="middle" fill="#111" stroke="#111" stroke-width="0.12" >08/13</text>
<line x1="540.15" y1="283.20" x2="540.15" y2="289.20" stroke="#2a2a2a" stroke-width="1.2" />
<text transform="translate(538.25,303.20) rotate(45) scale(0.96,1)" y="3.1" font-size="8.6" text-anchor="middle" fill="#111" stroke="#111" stroke-width="0.12" >08/21</text>
<line x1="558.52" y1="283.20" x2="558.52" y2="289.20" stroke="#2a2a2a" stroke-width="1.2" />
<text transform="translate(556.62,303.20) rotate(45) scale(0.96,1)" y="3.1" font-size="8.6" text-anchor="middle" fill="#111" stroke="#111" stroke-width="0.12" >08/29</text>
<line x1="576.90" y1="283.20" x2="576.90" y2="289.20" stroke="#2a2a2a" stroke-width="1.2" />
<text transform="translate(575.00,303.20) rotate(45) scale(0.96,1)" y="3.1" font-size="8.6" text-anchor="middle" fill="#111" stroke="#111" stroke-width="0.12" >09/06</text>
<text transform="translate(457.15,325.40) scale(0.96,1)" y="0" font-size="8.6" text-anchor="middle" fill="#111" stroke="#111" stroke-width="0.12" >day of year</text>
<polyline points="338.00,265.50 356.38,268.40 374.75,268.40 393.13,243.60 411.51,192.30 429.88,210.60 448.26,201.50 466.64,175.60 485.02,191.60 503.39,183.60 521.77,175.20 540.15,175.20 558.52,178.30 576.90,177.40" fill="none" stroke="#000" stroke-width="1.5" stroke-linejoin="miter" stroke-miterlimit="10" stroke-dasharray="4.2 1.3"/>
<polyline points="338.00,173.40 356.38,171.60 374.75,171.60 393.13,187.90 411.51,235.00 429.88,215.40 448.26,225.10 466.64,260.90 485.02,236.50 503.39,246.50 521.77,260.90 540.15,260.90 558.52,255.90 576.90,257.00" fill="none" stroke="#000" stroke-width="1.5" stroke-linejoin="miter" stroke-miterlimit="10" />
<rect x="340.8" y="166.5" width="11.2" height="12" fill="#fff"/>
<text transform="translate(344.30,176.90) scale(1.0,1)" y="0" font-size="8.6" text-anchor="start" fill="#111" stroke="#111" stroke-width="0.12" >d</text>
<line x1="529.00" y1="235.30" x2="545.30" y2="235.30" stroke="#000" stroke-width="1.5" stroke-dasharray="4.5 1.4"/>
<text transform="translate(547.90,238.00) scale(0.98,1)" y="0" font-size="9.0" text-anchor="start" fill="#111" stroke="#111" stroke-width="0.12" >S</text>
<line x1="528.90" y1="250.70" x2="545.20" y2="250.70" stroke="#000" stroke-width="1.5" />
<text transform="translate(547.80,253.20) scale(0.9,1)" y="0" font-size="8.2" text-anchor="start" fill="#333" stroke="#333" stroke-width="0.12" font-style="italic">σ</text>
</svg>
</body></html>
